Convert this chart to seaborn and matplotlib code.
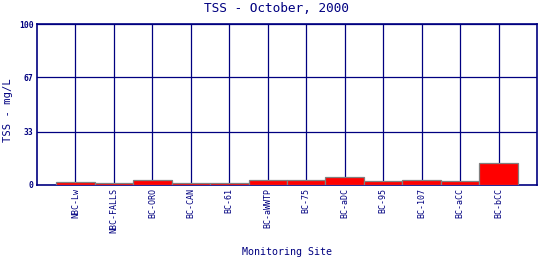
import matplotlib
matplotlib.use("Agg")
import matplotlib.pyplot as plt
import seaborn as sns
import pandas as pd

sites = ["NBC-Lw", "NBC-FALLS", "BC-ORO", "BC-CAN", "BC-61", "BC-aWWTP", "BC-75",
         "BC-aDC", "BC-95", "BC-107", "BC-aCC", "BC-bCC"]
tss = [1.6, 1.0, 2.8, 1.0, 1.0, 3.4, 3.4, 4.8, 2.7, 3.4, 2.7, 13.9]
yticks = [0, 33, 67, 100]

navy = "#000080"
sns.set_theme(style="white")
plt.rcParams['font.family'] = ['DejaVu Sans Mono']

df = pd.DataFrame({"site": sites, "tss": tss})
fig = plt.figure(figsize=(5.4, 2.6), dpi=100)
ax = fig.add_axes([37/540, 1-185/260, 500/540, 161/260])
sns.barplot(data=df, x="site", y="tss", color="#ff0000", width=1.0,
            edgecolor="#808080", linewidth=0.9, saturation=1, ax=ax, zorder=3)
ax.set_xlim(-1, len(sites))
ax.set_ylim(0, 100)
ax.set_yticks(yticks)
ax.set_yticklabels([str(v) for v in yticks], fontsize=5.8, color=navy, fontweight="bold")
ax.set_xticks(range(len(sites)))
ax.set_xticklabels(sites, rotation=90, fontsize=6, color=navy)
for i in range(len(sites)):
    ax.axvline(i, color=navy, lw=0.9, zorder=1)
for v in yticks[1:]:
    ax.axhline(v, color=navy, lw=0.9, zorder=1)
for s in ax.spines.values():
    s.set_color(navy)
    s.set_linewidth(1.2)
ax.tick_params(axis="both", length=0, pad=2.5)
ax.set_xlabel("Monitoring Site", fontsize=7.2, color=navy)
ax.xaxis.set_label_coords(0.5, -(247 - 185) / 161)
ax.set_ylabel("TSS - mg/L", fontsize=7.6, color=navy)
ax.yaxis.set_label_coords((13 - 37) / 500, (185 - 110) / 161)
fig.text(276/540, 1 - 9/260, "TSS - October, 2000", fontsize=9.2, color=navy,
         ha="center", va="center")
fig.savefig("out.png", dpi=100)
